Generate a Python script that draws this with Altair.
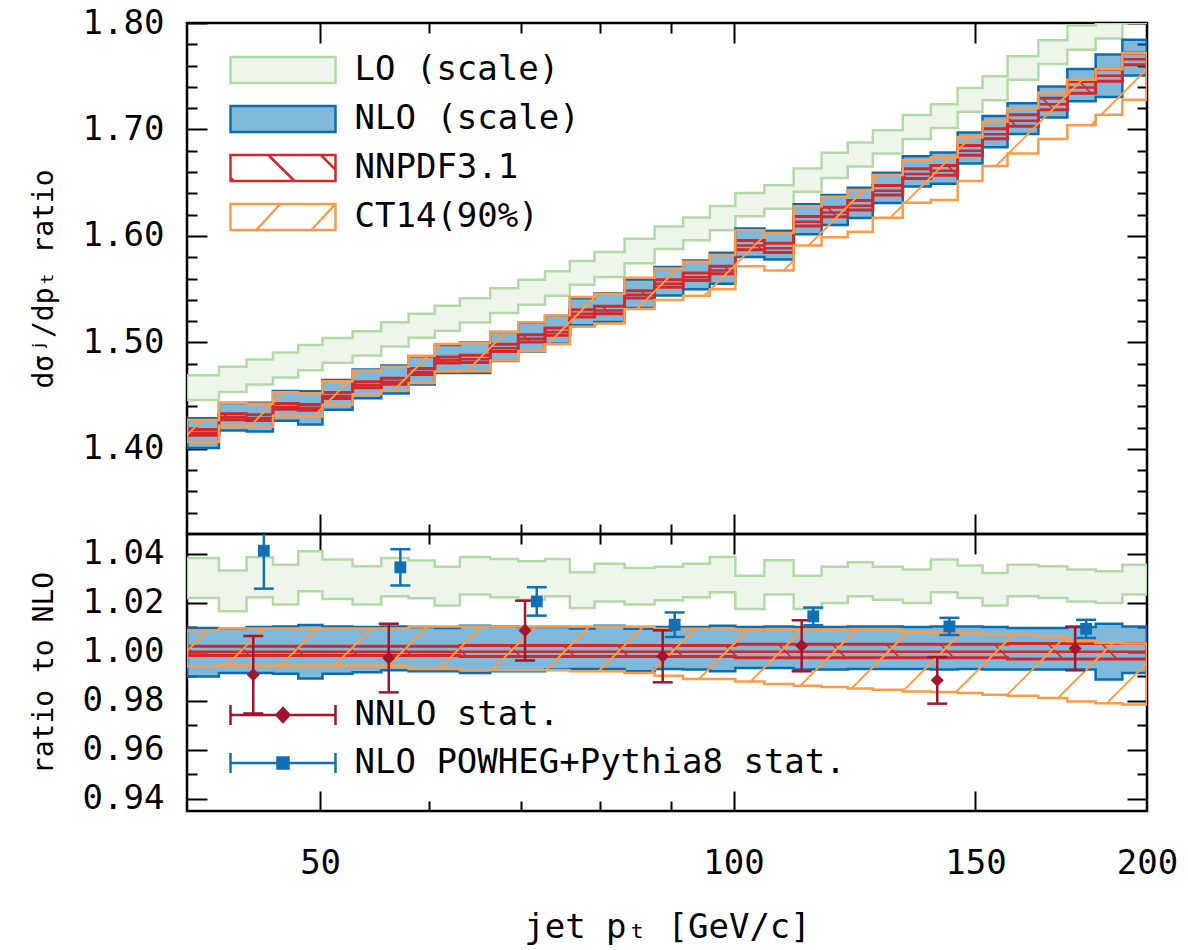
import altair as alt
import numpy as np
import pandas as pd

FONT = "DejaVu Sans Mono"

# ---------------- data ----------------
edges = [40.0, 42.2, 44.2, 46.2, 48.2, 50.2, 52.8, 55.4, 58.0, 60.6, 63.2, 66.5, 69.7, 72.9,
         76.0, 79.2, 83.3, 87.6, 91.9, 96.1, 100.3, 105.3, 110.6, 115.9, 121.1, 126.3, 132.8,
         139.2, 145.6, 151.8, 158.3, 166.7, 175.0, 183.5, 191.9, 200.0]

nlo_central = [1.4150, 1.4297, 1.4288, 1.4394, 1.4385, 1.4497, 1.4597, 1.4631, 1.4722, 1.4831,
               1.4841, 1.4944, 1.5034, 1.5097, 1.5269, 1.5300, 1.5447, 1.5550, 1.5612, 1.5675,
               1.5909, 1.5884, 1.6134, 1.6221, 1.6284, 1.6425, 1.6581, 1.6612, 1.6799, 1.6956,
               1.7081, 1.7237, 1.7393, 1.7505, 1.7660]

lo_hi = [1.0382, 1.0331, 1.0385, 1.0355, 1.0410, 1.0376, 1.0348, 1.0382, 1.0372, 1.0346,
         1.0386, 1.0378, 1.0369, 1.0378, 1.0324, 1.0359, 1.0341, 1.0346, 1.0359, 1.0386,
         1.0310, 1.0373, 1.0310, 1.0346, 1.0365, 1.0346, 1.0335, 1.0376, 1.0351, 1.0321,
         1.0355, 1.0348, 1.0335, 1.0328, 1.0355]
lo_lo = [1.0219, 1.0165, 1.0222, 1.0192, 1.0246, 1.0215, 1.0192, 1.0226, 1.0218, 1.0188,
         1.0233, 1.0222, 1.0212, 1.0226, 1.0178, 1.0205, 1.0192, 1.0210, 1.0222, 1.0242,
         1.0174, 1.0233, 1.0174, 1.0199, 1.0226, 1.0212, 1.0199, 1.0242, 1.0219, 1.0188,
         1.0226, 1.0219, 1.0205, 1.0199, 1.0233]

nlo_hi = [1.0097, 1.0093, 1.0101, 1.0103, 1.0109, 1.0103, 1.0101, 1.0103, 1.0101, 1.0097,
          1.0106, 1.0103, 1.0101, 1.0101, 1.0095, 1.0106, 1.0093, 1.0101, 1.0101, 1.0106,
          1.0101, 1.0103, 1.0101, 1.0101, 1.0103, 1.0103, 1.0101, 1.0103, 1.0103, 1.0101,
          1.0097, 1.0097, 1.0101, 1.0114, 1.0103]
nlo_lo = [0.9899, 0.9913, 0.9913, 0.9910, 0.9891, 0.9910, 0.9916, 0.9924, 0.9920, 0.9920,
          0.9913, 0.9920, 0.9920, 0.9927, 0.9929, 0.9929, 0.9920, 0.9929, 0.9927, 0.9920,
          0.9933, 0.9933, 0.9927, 0.9927, 0.9929, 0.9929, 0.9929, 0.9927, 0.9929, 0.9927,
          0.9927, 0.9927, 0.9927, 0.9886, 0.9913]

nnpdf_hi = [1.0022, 1.0022, 1.0022, 1.0022, 1.0022, 1.0022, 1.0022, 1.0022, 1.0022, 1.0022,
            1.0025, 1.0025, 1.0025, 1.0025, 1.0025, 1.0025, 1.0025, 1.0025, 1.0025, 1.0025,
            1.0030, 1.0030, 1.0030, 1.0030, 1.0030, 1.0030, 1.0030, 1.0030, 1.0030, 1.0030,
            1.0033, 1.0033, 1.0033, 1.0033, 1.0033]
nnpdf_lo = [0.9984, 0.9984, 0.9984, 0.9984, 0.9984, 0.9984, 0.9984, 0.9984, 0.9984, 0.9984,
            0.9980, 0.9980, 0.9980, 0.9980, 0.9980, 0.9980, 0.9980, 0.9980, 0.9980, 0.9980,
            0.9975, 0.9975, 0.9975, 0.9975, 0.9975, 0.9975, 0.9975, 0.9975, 0.9975, 0.9975,
            0.9970, 0.9970, 0.9970, 0.9970, 0.9970]

ct14_hi = [1.0086, 1.0095, 1.0095, 1.0095, 1.0095, 1.0095, 1.0095, 1.0095, 1.0103, 1.0103,
           1.0103, 1.0103, 1.0103, 1.0103, 1.0103, 1.0103, 1.0103, 1.0093, 1.0093, 1.0093,
           1.0090, 1.0090, 1.0090, 1.0090, 1.0090, 1.0090, 1.0080, 1.0076, 1.0076, 1.0069,
           1.0069, 1.0063, 1.0042, 1.0035, 1.0033]
ct14_lo = [0.9940, 0.9944, 0.9943, 0.9943, 0.9943, 0.9943, 0.9943, 0.9943, 0.9929, 0.9929,
           0.9924, 0.9924, 0.9924, 0.9924, 0.9920, 0.9920, 0.9913, 0.9902, 0.9888, 0.9888,
           0.9878, 0.9868, 0.9861, 0.9856, 0.9850, 0.9845, 0.9838, 0.9835, 0.9831, 0.9824,
           0.9820, 0.9811, 0.9797, 0.9790, 0.9784]

nnlo_x = [44.7, 56.1, 70.5, 88.8, 112.1, 140.7, 177.3]
nnlo_y = [0.9906, 0.9974, 1.0086, 0.9981, 1.0024, 0.9883, 1.0013]
nnlo_err = [0.0158, 0.0140, 0.0122, 0.0106, 0.0104, 0.0095, 0.0089]

pow_x = [45.5, 57.2, 71.9, 90.6, 114.3, 143.6, 180.6]
pow_y = [1.0412, 1.0344, 1.0205, 1.0110, 1.0144, 1.0103, 1.0093]
pow_err = [0.0155, 0.0074, 0.0058, 0.0050, 0.0036, 0.0035, 0.0037]

band_names = ["LO (scale)", "NLO (scale)", "NNPDF3.1", "CT14(90%)"]
point_names = ["NNLO stat.", "NLO POWHEG+Pythia8 stat."]

x_major = [50, 100, 150]
x_minor = [60, 70, 80, 90]
x_labels = [50, 100, 150, 200]
top_major = [1.40, 1.50, 1.60, 1.70, 1.80]
top_minor = [1.34, 1.36, 1.38, 1.42, 1.44, 1.46, 1.48, 1.52, 1.54, 1.56, 1.58,
             1.62, 1.64, 1.66, 1.68, 1.72, 1.74, 1.76, 1.78]
bot_major = [0.94, 0.96, 0.98, 1.00, 1.02, 1.04]
bot_minor = [0.95, 0.97, 0.99, 1.01, 1.03]

# ---------------- styling ----------------
W, HT, HB = 960, 511, 277
TOP_DOM = [1.32, 1.80]
BOT_DOM = [0.935, 1.048]
LO_FILL, LO_STROKE = "#eef6ec", "#b2daa6"
NLO_FILL, NLO_STROKE = "rgba(0,114,178,0.5)", "#0b6db0"
NN_STROKE = "#d62728"
CT_STROKE = "#fd9b4a"
NNLO_COL = "#a2152f"
POW_COL = "#0f70b7"

xscale = alt.Scale(type="log", domain=[40, 200], nice=False)
ytop = alt.Scale(domain=TOP_DOM, nice=False, zero=False)
ybot = alt.Scale(domain=BOT_DOM, nice=False, zero=False)


def step_df(lo, hi, dom, mid=None):
    lo = np.clip(np.asarray(lo, dtype=float), dom[0], dom[1])
    hi = np.clip(np.asarray(hi, dtype=float), dom[0], dom[1])
    d = {"x": list(edges), "lo": list(lo) + [lo[-1]], "hi": list(hi) + [hi[-1]]}
    if mid is not None:
        mid = np.clip(np.asarray(mid, dtype=float), dom[0], dom[1])
        d["mid"] = list(mid) + [mid[-1]]
    return pd.DataFrame(d)


def tick_axis(orient, values, size):
    return alt.Axis(orient=orient, values=values, tickSize=size, offset=-size, labels=False,
                    domain=False, grid=False, title=None, ticks=True, tickColor="black",
                    tickWidth=2)


LX = np.log(np.array(edges) / 40.0) / np.log(5.0) * W


def hatch_df(lo, hi, dom, H, yoff, sign, k0, step=54.0):
    ymin, ymax = dom
    X = np.arange(0, W + 0.01, 0.25)
    idx = np.clip(np.searchsorted(LX, X, side="right") - 1, 0, len(lo) - 1)
    top = H * (ymax - np.asarray(hi)[idx]) / (ymax - ymin)
    bot = H * (ymax - np.asarray(lo)[idx]) / (ymax - ymin)
    rows = []
    for k in np.arange(k0 - 3000, 3000, step):
        Y = (k - X - yoff) if sign > 0 else (X - k - yoff)
        inside = (Y >= top) & (Y <= bot) & (Y >= 0) & (Y <= H)
        if not inside.any():
            continue
        d = np.diff(np.concatenate([[0], inside.astype(int), [0]]))
        starts = np.where(d == 1)[0]
        ends = np.where(d == -1)[0] - 1
        for s, e in zip(starts, ends):
            if X[e] - X[s] < 1.0:
                continue
            rows.append({"x": 40 * 5 ** (X[s] / W), "y": ymax - Y[s] * (ymax - ymin) / H,
                         "x2": 40 * 5 ** (X[e] / W), "y2": ymax - Y[e] * (ymax - ymin) / H})
    return pd.DataFrame(rows, columns=["x", "y", "x2", "y2"])


def legend_obj(lx, ly):
    return alt.Legend(orient="none", legendX=lx, legendY=ly, title=None, labelFont=FONT,
                      labelFontSize=34, labelColor="black", symbolSize=1156,
                      symbolStrokeWidth=2.5, symbolOffset=35.5, labelOffset=53,
                      rowPadding=12, padding=0, labelLimit=900)


# ---------------- panel builder ----------------
def panel(scale_factor, yscale, dom, H, yoff, y_label_axis, y_major, y_minor, bottom_labels):
    c = np.asarray(scale_factor)
    lo_df = step_df(c * np.asarray(lo_lo), c * np.asarray(lo_hi), dom)
    nlo_df = step_df(c * np.asarray(nlo_lo), c * np.asarray(nlo_hi), dom)
    nn_df = step_df(c * np.asarray(nnpdf_lo), c * np.asarray(nnpdf_hi), dom, c * 1.0)
    ct_df = step_df(c * np.asarray(ct14_lo), c * np.asarray(ct14_hi), dom)

    if bottom_labels:
        x_lab_axis = alt.Axis(orient="bottom", values=x_labels, format="d", ticks=False, tickSize=0,
                              domain=False, grid=False, labelFont=FONT, labelFontSize=34,
                              labelColor="black", labelPadding=35, labelFlush=False,
                              labelOverlap=False, title="jet pₜ [GeV/c]", titleFont=FONT,
                              titleFontSize=34, titleFontWeight="normal", titleColor="black",
                              titlePadding=30)
        x_axes = [x_lab_axis, tick_axis("bottom", x_major, 20), tick_axis("bottom", x_minor, 10),
                  tick_axis("top", x_major, 20), tick_axis("top", x_minor, 10)]
    else:
        x_axes = [tick_axis("bottom", x_major, 20), tick_axis("bottom", x_minor, 10),
                  tick_axis("top", x_major, 20), tick_axis("top", x_minor, 10), None]
    y_axes = [y_label_axis, tick_axis("left", y_major, 20), tick_axis("left", y_minor, 10),
              tick_axis("right", y_major, 20), tick_axis("right", y_minor, 10)]

    def X(i):
        return alt.X("x:Q", scale=xscale, axis=x_axes[i] if i is not None else None, title=None)

    def Y(field, i):
        return alt.Y(field, scale=yscale, axis=y_axes[i] if i is not None else None)

    lo_layer = alt.Chart(lo_df).mark_area(interpolate="step-after", fill=LO_FILL, stroke=LO_STROKE,
                                          strokeWidth=2.5, clip=True).encode(
        x=X(0), y=Y("lo:Q", 0), y2="hi:Q")
    nlo_layer = alt.Chart(nlo_df).mark_area(interpolate="step-after", fill=NLO_FILL,
                                            stroke=NLO_STROKE, strokeWidth=2.5, clip=True).encode(
        x=X(1), y=Y("lo:Q", 1), y2="hi:Q")
    nn_layer = alt.Chart(nn_df).mark_area(interpolate="step-after", fill="transparent",
                                          stroke=NN_STROKE, strokeWidth=3, clip=True).encode(
        x=X(2), y=Y("lo:Q", 2), y2="hi:Q")
    nn_mid = alt.Chart(nn_df).mark_line(interpolate="step-after", color=NN_STROKE,
                                        strokeWidth=2.5, clip=True).encode(
        x=X(3), y=Y("mid:Q", 3))
    nn_hatch = alt.Chart(hatch_df(nn_df["lo"].values[:-1], nn_df["hi"].values[:-1], dom, H, yoff,
                                  -1, 0.0)).mark_rule(color=NN_STROKE, strokeWidth=1.6,
                                                      clip=True).encode(
        x=X(None), y=Y("y:Q", None), x2="x2:Q", y2="y2:Q")
    ct_layer = alt.Chart(ct_df).mark_area(interpolate="step-after", fill="transparent",
                                          stroke=CT_STROKE, strokeWidth=2.5, clip=True).encode(
        x=X(4), y=Y("lo:Q", 4), y2="hi:Q")
    ct_hatch = alt.Chart(hatch_df(ct_df["lo"].values[:-1], ct_df["hi"].values[:-1], dom, H, yoff,
                                  1, 10.0)).mark_rule(color=CT_STROKE, strokeWidth=1.8,
                                                      clip=True).encode(
        x=X(None), y=Y("y:Q", None), x2="x2:Q", y2="y2:Q")
    return [lo_layer, nlo_layer, nn_layer, nn_mid, nn_hatch, ct_layer, ct_hatch]


# ---------------- top panel ----------------
top_label_axis = alt.Axis(orient="left", values=top_major, format=".2f", ticks=False, tickSize=0,
                          domain=False, grid=False, labelFont=FONT, labelFontSize=34,
                          labelColor="black", labelPadding=23, title="dσʲ/dpₜ ratio",
                          titleFont=FONT, titleFontSize=28, titleFontWeight="normal",
                          titleColor="black", titlePadding=24)
top_layers = panel(nlo_central, ytop, TOP_DOM, HT, 0, top_label_axis, top_major, top_minor, False)

# legend symbol paths (unit = 17 px)
rect = "M-3.088,-0.765H3.088V0.765H-3.088Z"
band_paths = [rect, rect,
              rect + "M-0.865,-0.765L0.682,0.765M2.224,-0.765L3.088,0.092M-3.088,0.588L-2.906,0.765",
              rect + "M-1.576,0.765L-0.155,-0.765M1.669,0.765L3.088,-0.765"]
band_fills = [LO_FILL, "#80b8d8", "white", "white"]
band_strokes = [LO_STROKE, NLO_STROKE, NN_STROKE, CT_STROKE]
leg_top_df = pd.DataFrame({"series": band_names, "x": [100.0] * 4, "y": [1.5] * 4})
lg1 = legend_obj(42, 28.5)
leg_top = alt.Chart(leg_top_df).transform_filter("datum.x < 0").mark_point(
    opacity=1, filled=True, strokeWidth=2.5).encode(
    x=alt.X("x:Q", scale=xscale, axis=None),
    y=alt.Y("y:Q", scale=ytop, axis=None),
    shape=alt.Shape("series:N", scale=alt.Scale(domain=band_names, range=band_paths), legend=lg1),
    fill=alt.Fill("series:N", scale=alt.Scale(domain=band_names, range=band_fills), legend=lg1),
    stroke=alt.Stroke("series:N", scale=alt.Scale(domain=band_names, range=band_strokes), legend=lg1),
)

top = alt.layer(*top_layers, leg_top).resolve_axis(x="independent", y="independent").properties(
    width=W, height=HT)

# ---------------- bottom panel ----------------
ones = [1.0] * 35
bot_label_axis = alt.Axis(orient="left", values=bot_major, format=".2f", ticks=False, tickSize=0,
                          domain=False, grid=False, labelFont=FONT, labelFontSize=34,
                          labelColor="black", labelPadding=23, title="ratio to NLO",
                          titleFont=FONT, titleFontSize=28, titleFontWeight="normal",
                          titleColor="black", titlePadding=24)
bot_layers = panel(ones, ybot, BOT_DOM, HB, HT, bot_label_axis, bot_major, bot_minor, True)


def marker_layers(x, y, err, color, shape, size):
    y = np.asarray(y)
    err = np.asarray(err)
    df = pd.DataFrame({"x": x, "y": y, "lo": y - err, "hi": y + err})
    base = alt.Chart(df)
    xe = alt.X("x:Q", scale=xscale, axis=None)
    bar = base.mark_rule(color=color, strokeWidth=2.5, clip=True).encode(
        x=xe, y=alt.Y("lo:Q", scale=ybot, axis=None), y2="hi:Q")
    caps = base.transform_fold(["lo", "hi"], as_=["k", "v"]).mark_tick(
        orient="horizontal", size=20, thickness=2.5, color=color, opacity=1, clip=True).encode(
        x=xe, y=alt.Y("v:Q", scale=ybot, axis=None))
    pts = base.mark_point(shape=shape, size=size, filled=True, color=color, opacity=1,
                          clip=True).encode(x=xe, y=alt.Y("y:Q", scale=ybot, axis=None))
    return [bar, caps, pts]


mk = marker_layers(nnlo_x, nnlo_y, nnlo_err, NNLO_COL, "diamond", 170) + \
    marker_layers(pow_x, pow_y, pow_err, POW_COL, "square", 140)

pt_paths = ["M-3.088,0H3.088M-3.088,-0.588V0.588M3.088,-0.588V0.588M0,-0.41L0.382,0L0,0.41L-0.382,0Z",
            "M-3.088,0H3.088M-3.088,-0.588V0.588M3.088,-0.588V0.588M-0.324,-0.324H0.324V0.324H-0.324Z"]
pt_cols = [NNLO_COL, POW_COL]
leg_bot_df = pd.DataFrame({"series": point_names, "x": [100.0] * 2, "y": [1.0] * 2})
lg2 = legend_obj(42, 162.5)
leg_bot = alt.Chart(leg_bot_df).transform_filter("datum.x < 0").mark_point(
    opacity=1, filled=True, strokeWidth=2.5).encode(
    x=alt.X("x:Q", scale=xscale, axis=None),
    y=alt.Y("y:Q", scale=ybot, axis=None),
    shape=alt.Shape("series:N", scale=alt.Scale(domain=point_names, range=pt_paths), legend=lg2),
    fill=alt.Fill("series:N", scale=alt.Scale(domain=point_names, range=pt_cols), legend=lg2),
    stroke=alt.Stroke("series:N", scale=alt.Scale(domain=point_names, range=pt_cols), legend=lg2),
)

bottom = alt.layer(*bot_layers, *mk, leg_bot).resolve_axis(
    x="independent", y="independent").properties(width=W, height=HB)

chart = alt.vconcat(top, bottom, spacing=0, bounds="flush").resolve_scale(
    fill="independent", stroke="independent", shape="independent"
).properties(
    padding={"left": 28, "top": 4, "right": 4, "bottom": 2},
    background="white",
).configure_view(stroke="black", strokeWidth=2.5)

chart.save("out.html", embed_options={"renderer": "svg", "actions": False})
